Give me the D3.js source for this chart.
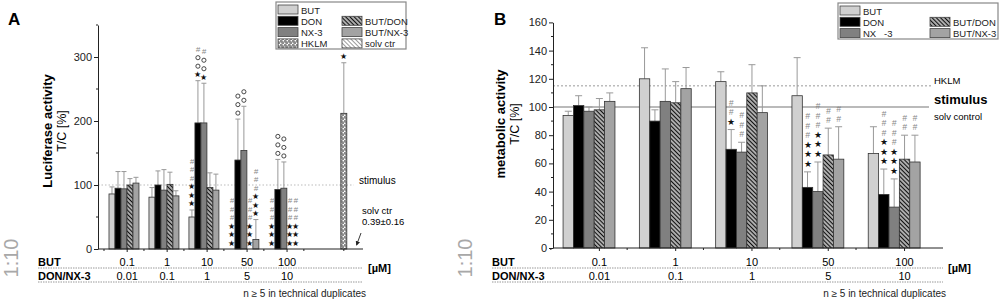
<!DOCTYPE html>
<html>
<head>
<meta charset="utf-8">
<script src="https://cdn.jsdelivr.net/npm/d3@7"></script>
<style>
body { margin: 0; background: #fff; }
svg { display: block; font-family: "Liberation Sans", Arial, sans-serif; }
</style>
</head>
<body>
<div id="chart"></div>
<script>
// Categories
const seriesNames = ["BUT", "DON", "NX-3", "BUT/DON", "BUT/NX-3"];
const butConc = ["0.1", "1", "10", "50", "100"];
const donConc = ["0.01", "0.1", "1", "5", "10"];

// Panel A: luciferase activity T/C [%], mean and SD
const lucBUT = [86, 81, 50, 0, 0];
const lucDON = [95, 100, 197, 139, 93];
const lucNX = [94, 92, 197, 154, 95];
const lucBUTDON = [100, 101, 96, 0, 0];
const lucBUTNX = [103, 83, 92, 15, 0];
const lucBUTsd = [11, 15, 11, 0, 0];
const lucDONsd = [26, 22, 66, 64, 47];
const lucNXsd = [27, 32, 62, 69, 41];
const lucBUTDONsd = [10, 19, 23, 0, 0];
const lucBUTNXsd = [9, 8, 25, 31, 0];
const lucHKLM = 212, lucHKLMsd = 79;
// significance marks, read top to bottom (# = vs solvent, * = vs stimulus, o = vs combination)
const lucBUTmarks = ["", "", "###***", "###***", "###***"];
const lucDONmarks = ["", "", "#oo*", "ooo", "ooo"];
const lucNXmarks = ["", "", "#oo*", "oo", "ooo"];
const lucBUTDONmarks = ["", "", "", "###***", "###***"];
const lucBUTNXmarks = ["", "", "", "###***", "###***"];
const lucHKLMmarks = "*";

// Panel B: metabolic activity T/C [%], mean and SD
const metBUT = [94, 120, 118, 108, 67];
const metDON = [101, 90, 70, 43, 38];
const metNX = [97, 104, 68, 40, 29];
const metBUTDON = [98, 103, 110, 66, 63];
const metBUTNX = [104, 113, 96, 63, 61];
const metBUTsd = [3, 22, 7, 27, 19];
const metDONsd = [7, 8, 14, 11, 18];
const metNXsd = [3, 23, 7, 21, 20];
const metBUTDONsd = [8, 15, 20, 19, 17];
const metBUTNXsd = [6, 15, 19, 23, 19];
const metBUTmarks = ["", "", "", "", ""];
const metDONmarks = ["", "", "##*", "###***", "###***"];
const metNXmarks = ["", "", "###", "###***", "###***"];
const metBUTDONmarks = ["", "", "", "##", "##"];
const metBUTNXmarks = ["", "", "", "##", "##"];
const metHKLM = 115;

const svg = d3.select("#chart").append("svg")
    .attr("width", 999)
    .attr("height", 301);

// Fill patterns
const defs = svg.append("defs");
function stripes(id, bg, fg, size, lw, angle) {
    const p = defs.append("pattern")
        .attr("id", id)
        .attr("patternUnits", "userSpaceOnUse")
        .attr("width", size)
        .attr("height", size)
        .attr("patternTransform", `rotate(${angle})`);
    p.append("rect").attr("width", size).attr("height", size).attr("fill", bg);
    p.append("line")
        .attr("x1", size / 2).attr("y1", 0)
        .attr("x2", size / 2).attr("y2", size)
        .attr("stroke", fg).attr("stroke-width", lw);
}
stripes("pButDon", "#fff", "#111", 3, 1.7, -45);
stripes("pButNx", "#c4c4c4", "#7a7a7a", 2, 0.9, 45);
stripes("pSolv", "#fff", "#9a9a9a", 3, 1, -45);

const ph = defs.append("pattern")
    .attr("id", "pHklm")
    .attr("patternUnits", "userSpaceOnUse")
    .attr("width", 4).attr("height", 4);
ph.append("rect").attr("width", 4).attr("height", 4).attr("fill", "#fff");
[[1, 1], [3, 3]].forEach(([cx, cy]) => {
    ph.append("circle").attr("cx", cx).attr("cy", cy).attr("r", 1.15)
        .attr("fill", "none").attr("stroke", "#222").attr("stroke-width", 0.7);
});

const fills = {
    "BUT": "#d0d0d0",
    "DON": "#000",
    "NX-3": "#808080",
    "BUT/DON": "url(#pButDon)",
    "BUT/NX-3": "url(#pButNx)",
    "HKLM": "url(#pHklm)",
    "solv ctr": "url(#pSolv)"
};

function drawMarks(g, str, cx, yBottom, step, size) {
    const glyphs = str.split("").reverse();
    glyphs.forEach((c, k) => {
        const cy = yBottom - k * step;
        if (c === "o") {
            g.append("circle").attr("cx", cx).attr("cy", cy).attr("r", size * 0.26)
                .attr("fill", "none").attr("stroke", "#333").attr("stroke-width", 0.9);
        } else if (c === "#") {
            g.append("text").attr("x", cx).attr("y", cy)
                .attr("text-anchor", "middle").attr("dominant-baseline", "central")
                .attr("font-size", size).attr("font-style", "italic").attr("fill", "#888")
                .text("#");
        } else {
            g.append("text").attr("x", cx).attr("y", cy)
                .attr("text-anchor", "middle").attr("dominant-baseline", "central")
                .attr("font-size", size).attr("fill", "#111")
                .text("\u2605");
        }
    });
}

function drawPanel(cfg) {
    const g = svg.append("g");
    const x = d3.scaleLinear().domain(cfg.slotDomain).range(cfg.xRange);
    const y = d3.scaleLinear().domain(cfg.yDomain).range(cfg.yRange);
    const bw = cfg.bw;

    const recs = cfg.means.flatMap((vals, j) => vals.map((v, i) => ({
        i, j, v, sd: cfg.sds[j][i], mark: cfg.marks[j][i], name: seriesNames[j]
    })));
    const cxOf = d => d.i + (d.j - 2) * bw;

    // reference lines
    cfg.refLines(g, x, y);

    // error bars
    const eb = recs.filter(d => d.sd > 0);
    g.selectAll(".err").data(eb).join("line")
        .attr("x1", d => x(cxOf(d))).attr("x2", d => x(cxOf(d)))
        .attr("y1", d => y(d.v)).attr("y2", d => y(d.v + d.sd))
        .attr("stroke", "#999").attr("stroke-width", 1);
    g.selectAll(".cap").data(eb).join("line")
        .attr("x1", d => x(cxOf(d)) - cfg.cap).attr("x2", d => x(cxOf(d)) + cfg.cap)
        .attr("y1", d => y(d.v + d.sd)).attr("y2", d => y(d.v + d.sd))
        .attr("stroke", "#999").attr("stroke-width", 1);

    // bars
    g.selectAll(".bar").data(recs.filter(d => d.v > 0)).join("rect")
        .attr("x", d => x(cxOf(d) - bw / 2))
        .attr("width", d => x(cxOf(d) + bw / 2) - x(cxOf(d) - bw / 2))
        .attr("y", d => y(d.v))
        .attr("height", d => y(0) - y(d.v))
        .attr("fill", d => fills[d.name])
        .attr("stroke", "#333").attr("stroke-width", 0.8);

    // significance marks
    recs.filter(d => d.mark).forEach(d => {
        const top = d.v + d.sd > 0 ? y(d.v + d.sd) : y(0);
        drawMarks(g, d.mark, x(cxOf(d)), top - cfg.markGap, cfg.markStep, cfg.markSize);
    });

    if (cfg.extra) cfg.extra(g, x, y);

    // y axis
    const yAxis = d3.axisLeft(y).tickValues(cfg.majorTicks).tickSize(4).tickPadding(2).tickSizeOuter(0);
    const ya = g.append("g")
        .attr("transform", `translate(${cfg.xRange[0]},0)`)
        .call(yAxis);
    ya.select(".domain").attr("stroke", "#222");
    ya.selectAll(".tick line").attr("stroke", "#222");
    ya.selectAll("text").attr("font-size", 11).attr("fill", "#222").attr("font-family", "Liberation Sans, Arial, sans-serif");
    g.selectAll(".ymin").data(cfg.minorTicks).join("line")
        .attr("x1", cfg.xRange[0] - 2).attr("x2", cfg.xRange[0])
        .attr("y1", d => y(d)).attr("y2", d => y(d))
        .attr("stroke", "#222");

    // x axis
    g.append("line")
        .attr("x1", cfg.xRange[0]).attr("x2", cfg.xRange[1])
        .attr("y1", y(0)).attr("y2", y(0))
        .attr("stroke", "#222");
    g.selectAll(".xt").data(butConc).join("line")
        .attr("x1", (d, i) => x(i + cfg.labelOff)).attr("x2", (d, i) => x(i + cfg.labelOff))
        .attr("y1", y(0)).attr("y2", y(0) + 3)
        .attr("stroke", "#222");
    g.selectAll(".xm").data(d3.range(cfg.minorX)).join("line")
        .attr("x1", i => x(i - 0.5)).attr("x2", i => x(i - 0.5))
        .attr("y1", y(0)).attr("y2", y(0) + 2)
        .attr("stroke", "#222");

    // y axis title
    const ty = cfg.titleY;
    g.append("text")
        .attr("transform", `translate(${cfg.titleX},${ty}) rotate(-90)`)
        .attr("text-anchor", "middle")
        .attr("font-size", 13).attr("font-weight", "bold")
        .text(cfg.yTitle);
    g.append("text")
        .attr("transform", `translate(${cfg.titleX + 14},${ty}) rotate(-90)`)
        .attr("text-anchor", "middle")
        .attr("font-size", 12.5)
        .text("T/C [%]");

    // panel letter
    g.append("text").attr("x", cfg.letterX).attr("y", 25)
        .attr("font-size", 17).attr("font-weight", "bold").text(cfg.letter);

    // dilution note
    g.append("text")
        .attr("transform", `translate(${cfg.dilX},258) rotate(-90)`)
        .attr("text-anchor", "middle")
        .attr("font-size", 20).attr("fill", "#a8a8a8")
        .text("1:10");

    // concentration table
    const tx = cfg.tableX;
    g.append("text").attr("x", tx).attr("y", 266).attr("font-size", 11).attr("font-weight", "bold").text("BUT");
    g.append("text").attr("x", tx).attr("y", 280).attr("font-size", 11).attr("font-weight", "bold").text("DON/NX-3");
    [268, 282].forEach(ly => {
        g.append("line").attr("x1", tx).attr("x2", cfg.xRange[1])
            .attr("y1", ly).attr("y2", ly)
            .attr("stroke", "#999").attr("stroke-dasharray", "1.5,1");
    });
    g.selectAll(".lb1").data(butConc).join("text")
        .attr("x", (d, i) => x(i + cfg.labelOff)).attr("y", 266)
        .attr("text-anchor", "middle").attr("font-size", 11).text(d => d);
    g.selectAll(".lb2").data(donConc).join("text")
        .attr("x", (d, i) => x(i + cfg.labelOff)).attr("y", 280)
        .attr("text-anchor", "middle").attr("font-size", 11).text(d => d);
    g.append("text").attr("x", cfg.xRange[1] + 5).attr("y", 272)
        .attr("font-size", 11).attr("font-weight", "bold").text("[\u00b5M]");
    g.append("text").attr("x", cfg.xRange[1] + 3).attr("y", 297)
        .attr("text-anchor", "end").attr("font-size", 10).attr("fill", "#222")
        .text("n \u2265 5 in technical duplicates");

    // legend
    const L = cfg.legend;
    g.append("rect").attr("x", L.x).attr("y", L.y).attr("width", L.w).attr("height", L.h)
        .attr("fill", "#fff").attr("stroke", "#888").attr("stroke-width", 1.2);
    L.items.forEach(([name, label, col, row]) => {
        const lx = L.x + 2 + col * L.colW;
        const ly = L.y + 3 + row * L.rowH;
        g.append("rect").attr("x", lx).attr("y", ly).attr("width", 20).attr("height", 9)
            .attr("fill", fills[name]).attr("stroke", "#444").attr("stroke-width", 0.8);
        g.append("text").attr("x", lx + 23).attr("y", ly + 8.5)
            .attr("font-size", 9.5).attr("fill", "#222")
            .style("white-space", "pre").text(label);
    });
}

// Panel A
drawPanel({
    letter: "A", letterX: 8, dilX: 18, tableX: 38, titleX: 52, titleY: 131,
    yTitle: "Luciferase activity",
    slotDomain: [-0.65, 5.98], xRange: [98, 363],
    yDomain: [0, 350], yRange: [249, 25],
    majorTicks: [0, 100, 200, 300], minorTicks: [50, 150, 250, 350],
    bw: 0.15, cap: 2.5, labelOff: 0.08, minorX: 7,
    markGap: 6, markStep: 8.5, markSize: 8,
    means: [lucBUT, lucDON, lucNX, lucBUTDON, lucBUTNX],
    sds: [lucBUTsd, lucDONsd, lucNXsd, lucBUTDONsd, lucBUTNXsd],
    marks: [lucBUTmarks, lucDONmarks, lucNXmarks, lucBUTDONmarks, lucBUTNXmarks],
    refLines: (g, x, y) => {
        g.append("line").attr("x1", x(-0.65)).attr("x2", x(5.75))
            .attr("y1", y(100)).attr("y2", y(100))
            .attr("stroke", "#bbb").attr("stroke-dasharray", "1.5,2");
        g.append("text").attr("x", 359).attr("y", 184).attr("font-size", 10).text("stimulus");
    },
    extra: (g, x, y) => {
        // HKLM positive control
        const hx = 5.5, w = 0.15;
        g.append("line").attr("x1", x(hx)).attr("x2", x(hx))
            .attr("y1", y(lucHKLM)).attr("y2", y(lucHKLM + lucHKLMsd))
            .attr("stroke", "#999");
        g.append("line").attr("x1", x(hx) - 2.5).attr("x2", x(hx) + 2.5)
            .attr("y1", y(lucHKLM + lucHKLMsd)).attr("y2", y(lucHKLM + lucHKLMsd))
            .attr("stroke", "#999");
        g.append("rect").attr("x", x(hx - w / 2)).attr("width", x(hx + w / 2) - x(hx - w / 2))
            .attr("y", y(lucHKLM)).attr("height", y(0) - y(lucHKLM))
            .attr("fill", fills["HKLM"]).attr("stroke", "#333").attr("stroke-width", 0.8);
        drawMarks(g, lucHKLMmarks, x(hx), y(lucHKLM + lucHKLMsd) - 6, 8.5, 8);
        // solvent control note
        g.append("text").attr("x", 362).attr("y", 214).attr("font-size", 9.5).text("solv ctr");
        g.append("text").attr("x", 362).attr("y", 225).attr("font-size", 9.5).text("0.39\u00b10.16");
        defs.append("marker").attr("id", "arr").attr("viewBox", "0 0 6 6")
            .attr("refX", 5).attr("refY", 3).attr("markerWidth", 5).attr("markerHeight", 5)
            .attr("orient", "auto")
            .append("path").attr("d", "M0,0L6,3L0,6Z").attr("fill", "#222");
        g.append("line").attr("x1", 361).attr("y1", 233).attr("x2", x(5.82)).attr("y2", y(0) - 4)
            .attr("stroke", "#222").attr("stroke-width", 0.9).attr("marker-end", "url(#arr)");
    },
    legend: {
        x: 276, y: 2, w: 130, h: 47, colW: 64, rowH: 11.3,
        items: [["BUT", "BUT", 0, 0], ["DON", "DON", 0, 1], ["NX-3", "NX-3", 0, 2], ["HKLM", "HKLM", 0, 3],
                ["BUT/DON", "BUT/DON", 1, 1], ["BUT/NX-3", "BUT/NX-3", 1, 2], ["solv ctr", "solv ctr", 1, 3]]
    }
});

// Panel B
drawPanel({
    letter: "B", letterX: 494, dilX: 472, tableX: 492, titleX: 505, titleY: 124,
    yTitle: "metabolic activity",
    slotDomain: [-0.472, 4.64], xRange: [553, 943],
    yDomain: [0, 160], yRange: [248, 22.4],
    majorTicks: d3.range(0, 161, 20), minorTicks: d3.range(10, 160, 20),
    bw: 0.136, cap: 3.5, labelOff: 0.136, minorX: 5,
    markGap: 8, markStep: 9.5, markSize: 8.5,
    means: [metBUT, metDON, metNX, metBUTDON, metBUTNX],
    sds: [metBUTsd, metDONsd, metNXsd, metBUTDONsd, metBUTNXsd],
    marks: [metBUTmarks, metDONmarks, metNXmarks, metBUTDONmarks, metBUTNXmarks],
    refLines: (g, x, y) => {
        g.append("line").attr("x1", 553).attr("x2", 932)
            .attr("y1", y(metHKLM)).attr("y2", y(metHKLM))
            .attr("stroke", "#999").attr("stroke-dasharray", "2,2");
        g.append("line").attr("x1", 553).attr("x2", 929)
            .attr("y1", y(100)).attr("y2", y(100))
            .attr("stroke", "#777").attr("stroke-width", 1.2);
        g.append("text").attr("x", 934).attr("y", y(metHKLM) - 2).attr("font-size", 9.5).text("HKLM");
        g.append("text").attr("x", 934).attr("y", y(100) - 3).attr("font-size", 13).attr("font-weight", "bold").text("stimulus");
        g.append("text").attr("x", 934).attr("y", y(100) + 13).attr("font-size", 9.5).text("solv control");
    },
    legend: {
        x: 838, y: 3, w: 160, h: 36, colW: 90, rowH: 11.3,
        items: [["BUT", "BUT", 0, 0], ["DON", "DON", 0, 1], ["NX-3", "NX   -3", 0, 2],
                ["BUT/DON", "BUT/DON", 1, 1], ["BUT/NX-3", "BUT/NX-3", 1, 2]]
    }
});
</script>
</body>
</html>
